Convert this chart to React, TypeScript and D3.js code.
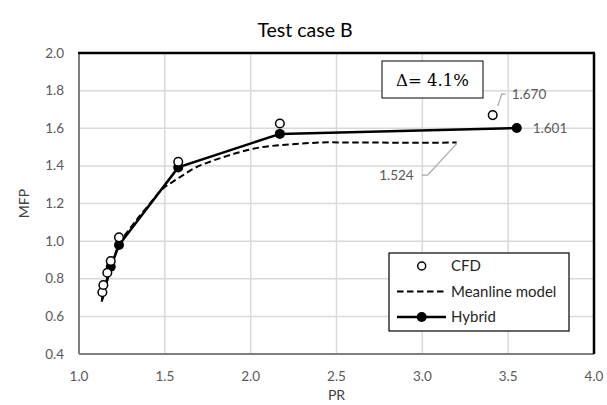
import React from "react";
import * as d3 from "d3";

const W = 607;
const H = 405;

const xTicks = [1.0, 1.5, 2.0, 2.5, 3.0, 3.5, 4.0];
const yTicks = [0.4, 0.6, 0.8, 1.0, 1.2, 1.4, 1.6, 1.8, 2.0];

const cfdPR = [1.136, 1.142, 1.165, 1.185, 1.233, 1.578, 2.17, 3.41];
const cfdMFP = [0.728, 0.767, 0.832, 0.894, 1.02, 1.422, 1.625, 1.67];

const meanPR = [1.132, 1.16, 1.19, 1.21, 1.233, 1.3, 1.4, 1.49, 1.55, 1.6, 1.666, 1.763, 1.86, 1.977, 2.054, 2.17, 2.3, 2.45, 2.7, 3.0, 3.2];
const meanMFP = [0.678, 0.79, 0.88, 0.93, 0.98, 1.07, 1.185, 1.28, 1.318, 1.347, 1.385, 1.422, 1.452, 1.483, 1.498, 1.51, 1.519, 1.525, 1.524, 1.523, 1.524];

const hybridPR = [1.135, 1.185, 1.233, 1.578, 2.17, 3.55];
const hybridMFP = [0.69, 0.864, 0.979, 1.392, 1.57, 1.601];
const hybridMarker = [false, true, true, true, true, true];

const legendLabels = ["CFD", "Meanline model", "Hybrid"];
const deltaText = "Δ= 4.1%";
const labelCFD = "1.670";
const labelHybrid = "1.601";
const labelMean = "1.524";

export default function App() {
  const left = 79, right = 594, top = 53, bottom = 354;
  const x = d3.scaleLinear().domain([1, 4]).range([left, right]);
  const y = d3.scaleLinear().domain([0.4, 2.0]).range([bottom, top]);

  const meanPts: [number, number][] = meanPR.map((p, i) => [x(p), y(meanMFP[i])]);
  const hybPts: [number, number][] = hybridPR.map((p, i) => [x(p), y(hybridMFP[i])]);
  const meanPath = d3.line().curve(d3.curveMonotoneX)(meanPts) || "";
  const hybPath = d3.line()(hybPts) || "";

  const font = "Lato, 'Open Sans', sans-serif";
  const tickColor = "#595959";

  const cfdLast = [x(cfdPR[cfdPR.length - 1]), y(cfdMFP[cfdMFP.length - 1])];
  const hybLast = [x(hybridPR[hybridPR.length - 1]), y(hybridMFP[hybridMFP.length - 1])];
  const meanLast = [x(meanPR[meanPR.length - 1]), y(meanMFP[meanMFP.length - 1])];

  const lg = { x: 389, y: 253, w: 180, h: 78 };
  const rowY = [266, 291.5, 317];

  return (
    <svg width={W} height={H} style={{ display: "block", position: "absolute", left: 0, top: 0 }}>
      <rect x={0} y={0} width={W} height={H} fill="#fff" />
      <text x={305} y={37} textAnchor="middle" fontFamily={font} fontSize={19.5} fill="#000">
        Test case B
      </text>
      {xTicks.map((t) => (
        <line key={"gx" + t} x1={x(t)} x2={x(t)} y1={top} y2={bottom} stroke="#d9d9d9" strokeWidth={1.5} />
      ))}
      {yTicks.map((t) => (
        <line key={"gy" + t} x1={left} x2={right} y1={y(t)} y2={y(t)} stroke="#d9d9d9" strokeWidth={1.5} />
      ))}
      <line x1={left} x2={left} y1={top} y2={bottom} stroke="#7f7f7f" strokeWidth={2} />
      <line x1={left} x2={right} y1={bottom} y2={bottom} stroke="#7f7f7f" strokeWidth={2} />
      <line x1={left - 1} x2={right + 1} y1={top} y2={top} stroke="#000" strokeWidth={2.5} />
      <line x1={right} x2={right} y1={top} y2={bottom} stroke="#000" strokeWidth={2.5} />
      {xTicks.map((t) => (
        <text key={"tx" + t} x={x(t)} y={381} textAnchor="middle" fontFamily={font} fontSize={13.5} fill={tickColor}>
          {t.toFixed(1)}
        </text>
      ))}
      {yTicks.map((t) => (
        <text key={"ty" + t} x={64} y={y(t) + 4.5} textAnchor="end" fontFamily={font} fontSize={13.5} fill={tickColor}>
          {t.toFixed(1)}
        </text>
      ))}
      <text x={(left + right) / 2} y={400} textAnchor="middle" fontFamily={font} fontSize={14} fill="#404040">
        PR
      </text>
      <text transform={`translate(29,${(top + bottom) / 2}) rotate(-90)`} textAnchor="middle" fontFamily={font} fontSize={14} fill="#404040">
        MFP
      </text>
      <path d={meanPath} fill="none" stroke="#000" strokeWidth={2} strokeDasharray="6.5,3.5" />
      <path d={hybPath} fill="none" stroke="#000" strokeWidth={2.5} />
      {hybPts.map((p, i) =>
        hybridMarker[i] ? <circle key={"h" + i} cx={p[0]} cy={p[1]} r={5} fill="#000" /> : null
      )}
      {cfdPR.map((p, i) => (
        <circle key={"c" + i} cx={x(p)} cy={y(cfdMFP[i])} r={4.3} fill="#fff" stroke="#000" strokeWidth={1.5} />
      ))}
      <polyline
        points={`${cfdLast[0] + 5},${cfdLast[1] - 9} ${cfdLast[0] + 9},${cfdLast[1] - 21} ${cfdLast[0] + 13},${cfdLast[1] - 21}`}
        fill="none" stroke="#a6a6a6" strokeWidth={1.2}
      />
      <text x={cfdLast[0] + 19} y={cfdLast[1] - 16} fontFamily={font} fontSize={13.5} fill={tickColor}>{labelCFD}</text>
      <text x={hybLast[0] + 16} y={hybLast[1] + 4.5} fontFamily={font} fontSize={13.5} fill={tickColor}>{labelHybrid}</text>
      <polyline
        points={`${meanLast[0]},${meanLast[1] + 1} ${meanLast[0] - 29},${meanLast[1] + 32.5} ${meanLast[0] - 35},${meanLast[1] + 32.5}`}
        fill="none" stroke="#a6a6a6" strokeWidth={1.2}
      />
      <text x={meanLast[0] - 43} y={meanLast[1] + 37} textAnchor="end" fontFamily={font} fontSize={13.5} fill={tickColor}>{labelMean}</text>
      <rect x={382} y={61} width={101} height={37} fill="#fff" stroke="#000" strokeWidth={1} />
      <text x={432.5} y={86} textAnchor="middle" fontFamily="'DejaVu Serif', 'Liberation Serif', serif" fontSize={16.5} fill="#000">
        {deltaText}
      </text>
      <rect x={lg.x} y={lg.y} width={lg.w} height={lg.h} fill="#fff" stroke="#000" strokeWidth={1.2} />
      <circle cx={421.7} cy={rowY[0]} r={4} fill="#fff" stroke="#000" strokeWidth={1.5} />
      <line x1={397} x2={446} y1={rowY[1]} y2={rowY[1]} stroke="#000" strokeWidth={2} strokeDasharray="6.5,3.5" />
      <line x1={397} x2={446} y1={rowY[2]} y2={rowY[2]} stroke="#000" strokeWidth={2.5} />
      <circle cx={421.7} cy={rowY[2]} r={5} fill="#000" />
      {legendLabels.map((l, i) => (
        <text key={l} x={451} y={rowY[i] + 5} fontFamily={font} fontSize={15} fill="#262626">
          {l}
        </text>
      ))}
    </svg>
  );
}
